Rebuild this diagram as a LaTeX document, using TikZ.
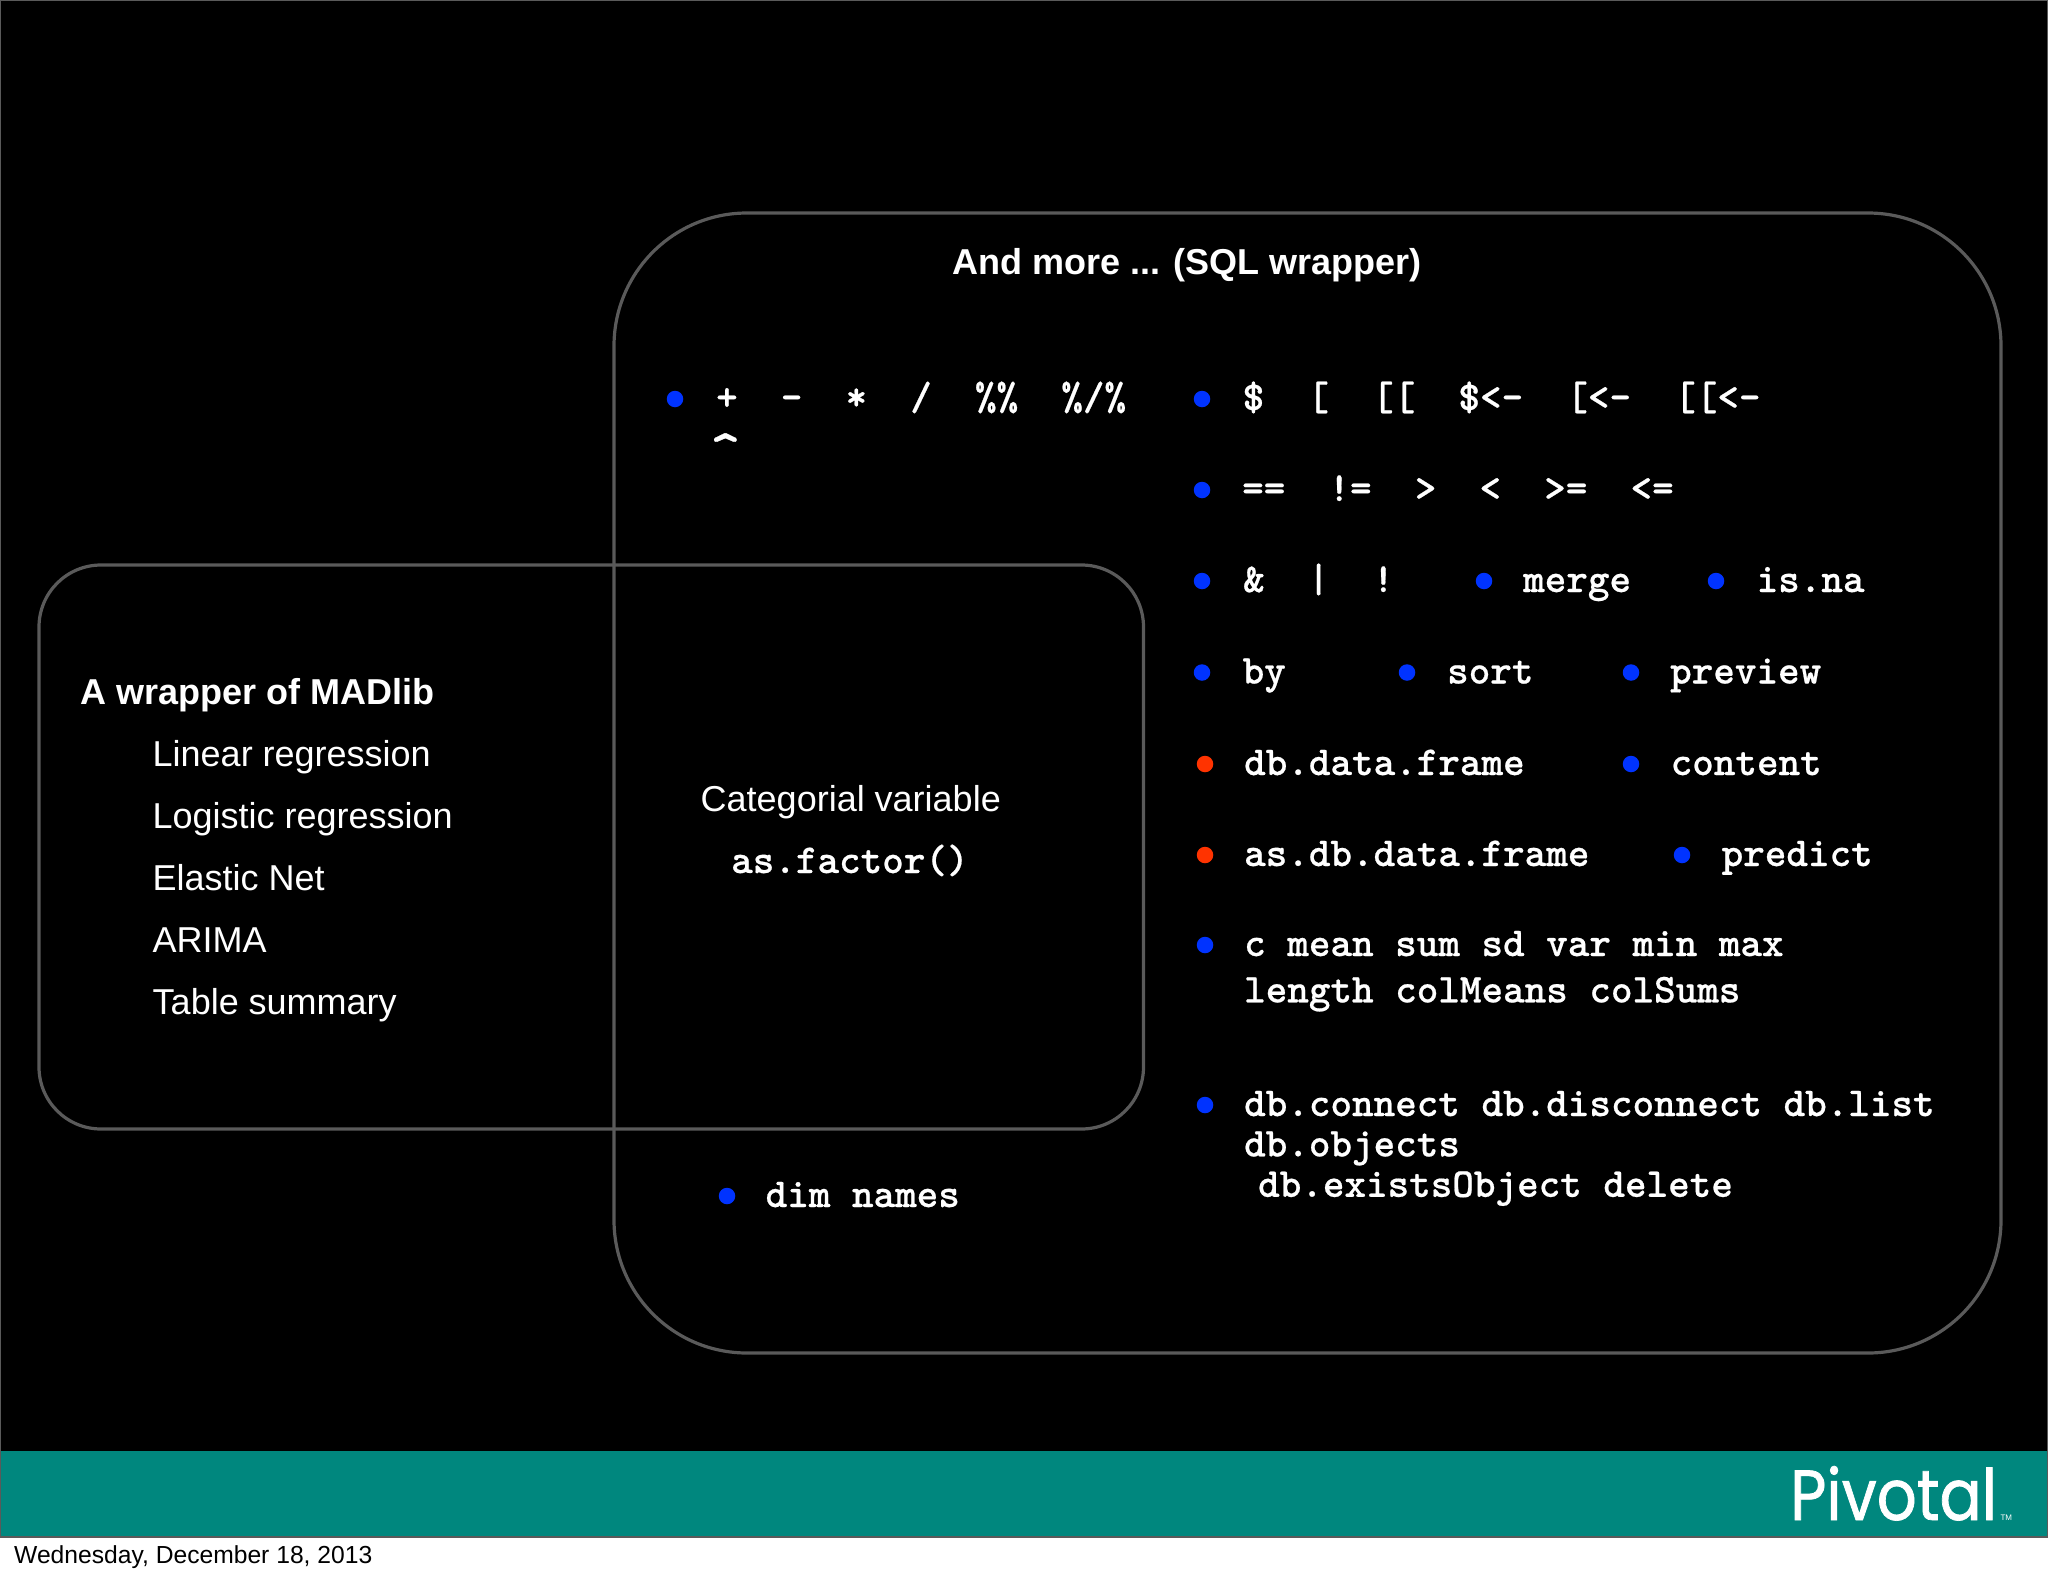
\documentclass[tikz,border=0pt]{standalone}
\usepackage{fontspec}
\setmainfont{Liberation Sans}
\newfontfamily\logofont[FakeStretch=0.88,FakeBold=1]{Poppins}
\newfontfamily\codefont[FakeBold=0.5]{lmmonolt10-bold.otf}
\usetikzlibrary{positioning}
\definecolor{slideblack}{HTML}{000000}
\definecolor{bandteal}{HTML}{00877E}
\definecolor{framegray}{HTML}{5A5A5A}
\definecolor{bulletblue}{HTML}{0033FF}
\definecolor{bulletred}{HTML}{FF3300}
\newcommand{\gap}{\ \ }
\tikzset{
  panel/.style={draw=framegray, line width=3.2pt},
  dot/.style={circle, fill=bulletblue, inner sep=0pt, minimum size=16.5pt},
  reddot/.style={dot, fill=bulletred},
  code/.style={text=white, inner sep=0pt, text height=31pt, text depth=9pt,
    font=\fontsize{41.1}{46}\selectfont\codefont},
  label/.style={text=white, inner sep=0pt, text height=30pt, text depth=10pt,
    font=\fontsize{36}{42}\selectfont},
  heading/.style={label, font=\fontsize{36}{42}\selectfont\bfseries}
}
\begin{document}
\begin{tikzpicture}[x=1pt, y=-1pt]
\useasboundingbox (0,0) rectangle (2048,1576);
\fill[white] (0,0) rectangle (2048,1576);
\fill[slideblack] (0,0) rectangle (2048,1451);
\fill[bandteal] (0,1451) rectangle (2048,1537);
\draw[framegray, line width=1.5pt] (0.7,0.7) rectangle (2047.3,1537);

\draw[panel, rounded corners=133pt] (614,213) rectangle (2001,1353);
\draw[panel, rounded corners=62pt] (39,565) rectangle (1143.5,1129);

\node[heading] (title) at (1187,264) {And more ... (SQL wrapper)};

% left panel
\node[heading, anchor=west] (madlib) at (80.5,694) {A wrapper of MADlib};
\node[label, anchor=west] (linear) at (152.5,756) {Linear regression};
\node[label, below=21.8pt of linear.south west, anchor=north west] (logistic) {Logistic regression};
\node[label, below=21.8pt of logistic.south west, anchor=north west] (elastic) {Elastic Net};
\node[label, below=21.8pt of elastic.south west, anchor=north west] (arima) {ARIMA};
\node[label, below=21.8pt of arima.south west, anchor=north west] (summary) {Table summary};

% overlap
\node[label, anchor=west] (categorial) at (700.5,801.5) {Categorial variable};
\node[code, anchor=west] (factor) at (731,862) {as.factor()};

% operators
\node[dot] (b1) at (675,399) {};
\node[code, right=32.5pt of b1] (arith) {+\gap-\gap*\gap/\gap\%\%\gap\%/\%};
\node[code, below=19pt of arith.south west, anchor=north west, xshift=-6pt,
  font=\fontsize{58}{58}\selectfont\codefont] (caret) {\textasciicircum};
\node[dot] (b2) at (1202,399) {};
\node[code, right=32pt of b2] (index) {\$\gap[\gap[[\gap\$<-\gap[<-\gap[[<-};
\node[dot] (b3) at (1202,490) {};
\node[code, right=31.5pt of b3] (compare) {==\gap!=\gap>\gap<\gap>=\gap<=};
\node[dot] (b4) at (1202,581) {};
\node[code, right=32.5pt of b4] (logic) {\&\gap|\gap!};
\node[dot] (b5) at (1484,581) {};
\node[code, right=30.5pt of b5] (merge) {merge};
\node[dot] (b6) at (1716,581) {};
\node[code, right=32pt of b6] (isna) {is.na};
\node[dot] (b7) at (1202,672.5) {};
\node[code, right=32pt of b7] (by) {by};
\node[dot] (b8) at (1407,672.5) {};
\node[code, right=31.5pt of b8] (sort) {sort};
\node[dot] (b9) at (1631,672.5) {};
\node[code, right=30.5pt of b9] (preview) {preview};
\node[reddot] (b10) at (1205,764) {};
\node[code, right=30.5pt of b10] (frame) {db.data.frame};
\node[dot] (b11) at (1631,764) {};
\node[code, right=31pt of b11] (content) {content};
\node[reddot] (b12) at (1205,855) {};
\node[code, right=30.5pt of b12] (asframe) {as.db.data.frame};
\node[dot] (b13) at (1682,855) {};
\node[code, right=31pt of b13] (predict) {predict};
\node[dot] (b14) at (1205,945) {};
\node[code, right=30.5pt of b14] (stats) {c mean sum sd var min max};
\node[code, below=6pt of stats.south west, anchor=north west] (length) {length colMeans colSums};
\node[dot] (b15) at (1205,1105) {};
\node[code, right=30.5pt of b15] (connect) {db.connect db.disconnect db.list};
\node[code, below=0pt of connect.south west, anchor=north west] (objects) {db.objects};
\node[code, below=0pt of objects.south west, anchor=north west, xshift=14pt] (exists) {db.existsObject delete};
\node[dot] (b16) at (727,1196) {};
\node[code, right=30pt of b16] (dim) {dim names};

% footer
\node[anchor=base west, inner sep=0pt, text=white, font=\fontsize{71}{72}\selectfont\logofont] (logo) at (1790,1520) {Pivotal};
\node[right=3pt of logo.base east, anchor=base west, inner sep=0pt, text=white, font=\fontsize{8}{8}\selectfont] (tm) {TM};
\node[anchor=base west, inner sep=0pt, font=\fontsize{24.65}{28}\selectfont] (date) at (14,1563) {Wednesday, December 18, 2013};
\end{tikzpicture}
\end{document}
